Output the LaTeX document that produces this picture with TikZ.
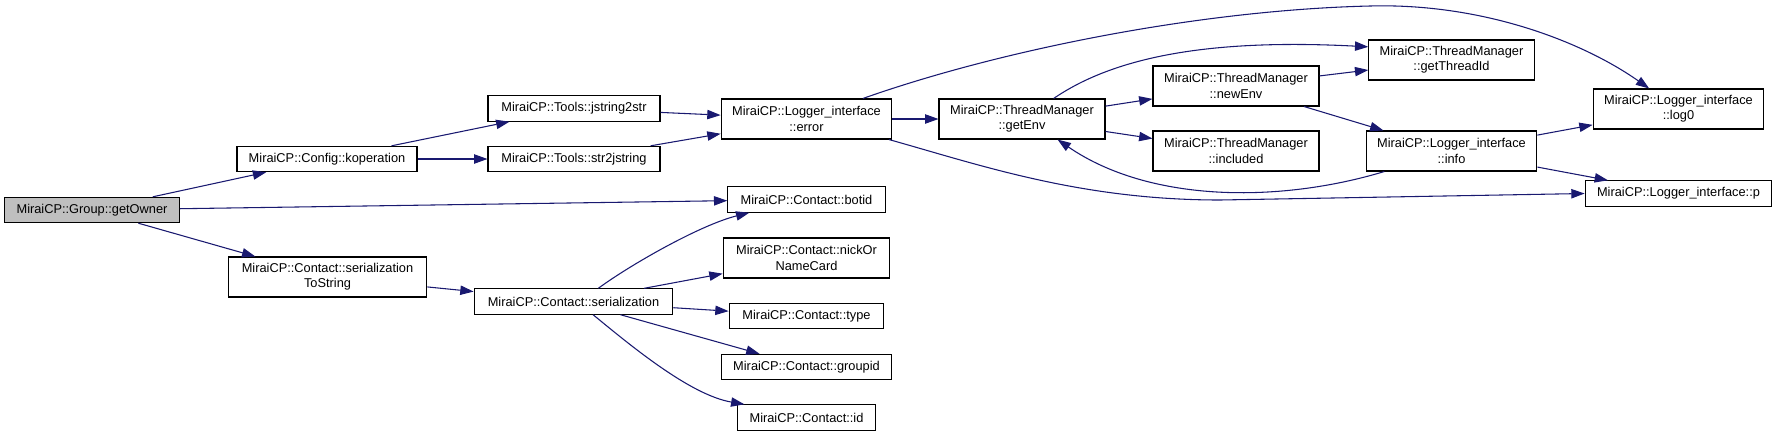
\documentclass[tikz,border=0pt]{standalone}
\usepackage{fontspec}
\setmainfont{Liberation Sans}
\usetikzlibrary{arrows.meta}
\definecolor{edg}{HTML}{191970}
\definecolor{cur}{HTML}{BFBFBF}
\tikzset{
  fn/.style={draw=black, line width=0.8pt, fill=white, inner sep=0pt, align=center, minimum height=19pt, font=\fontsize{9.6}{11.5}\selectfont},
  fnn/.style={fn, minimum height=30pt},
  call/.style={edg, line width=0.8pt, -{Triangle[length=10pt,width=7pt]}},
}
\begin{document}
\begin{tikzpicture}[x=0.75pt,y=-0.75pt]
 \useasboundingbox (0,0) rectangle (1777,437);
 \node[fn, fill=cur, minimum width=131pt] (owner) at (92,210) {MiraiCP::Group::getOwner};
 \node[fn, minimum width=135pt] (kop) at (327,159) {MiraiCP::Config::koperation};
 \node[fn, minimum width=129pt] (j2s) at (574,108.5) {MiraiCP::Tools::jstring2str};
 \node[fn, minimum width=129pt] (s2j) at (574,159) {MiraiCP::Tools::str2jstring};
 \node[fnn, minimum width=128pt] (err) at (806.5,119) {MiraiCP::Logger\_interface\\::error};
 \node[fnn, minimum width=124.5pt] (genv) at (1022,119) {MiraiCP::ThreadManager\\::getEnv};
 \node[fnn, minimum width=124.5pt] (nenv) at (1236,86) {MiraiCP::ThreadManager\\::newEnv};
 \node[fnn, minimum width=124.5pt] (incl) at (1236,151) {MiraiCP::ThreadManager\\::included};
 \node[fnn, minimum width=124pt] (tid) at (1451.5,60) {MiraiCP::ThreadManager\\::getThreadId};
 \node[fnn, minimum width=128pt] (info) at (1451.5,151) {MiraiCP::Logger\_interface\\::info};
 \node[fnn, minimum width=128pt] (logz) at (1678.5,109) {MiraiCP::Logger\_interface\\::log0};
 \node[fn, minimum width=140pt] (logp) at (1678.5,193.5) {MiraiCP::Logger\_interface::p};
 \node[fn, minimum width=118pt] (botid) at (806.5,199.5) {MiraiCP::Contact::botid};
 \node[fnn, minimum width=125pt] (nick) at (806.5,258) {MiraiCP::Contact::nickOr\\NameCard};
 \node[fn, minimum width=116pt] (ctype) at (806.5,316) {MiraiCP::Contact::type};
 \node[fn, minimum width=128pt] (grp) at (806.5,367) {MiraiCP::Contact::groupid};
 \node[fn, minimum width=104pt] (cid) at (806.5,417.5) {MiraiCP::Contact::id};
 \node[fnn, minimum width=149pt] (sts) at (327.5,277) {MiraiCP::Contact::serialization\\ToString};
 \node[fn, minimum width=149pt] (ser) at (573.5,301.5) {MiraiCP::Contact::serialization};
 \draw[call] (owner) -- (kop);
 \draw[call] (owner) -- (botid);
 \draw[call] (owner) -- (sts);
 \draw[call] (kop) -- (j2s);
 \draw[call] (kop) -- (s2j);
 \draw[call] (j2s) -- (err);
 \draw[call] (s2j) -- (err);
 \draw[call] (err) -- (genv);
 \draw[call] (err.20) .. controls (1000,50) and (1200,10) .. (1370,6) .. controls (1480,3) and (1580,40) .. (logz.145);
 \draw[call] (err.-14) .. controls (980,165) and (1080,200) .. (1220,200) -- (logp.west);
 \draw[call] (genv) -- (nenv);
 \draw[call] (genv) -- (incl);
 \draw[call] (genv.33) .. controls (1110,60) and (1200,38) .. (tid.171);
 \draw[call] (nenv) -- (tid);
 \draw[call] (nenv) -- (info);
 \draw[call] (info.197) .. controls (1280,203) and (1150,203) .. (genv.-30);
 \draw[call] (info) -- (logz);
 \draw[call] (info) -- (logp);
 \draw[call] (sts) -- (ser);
 \draw[call] (ser.28) .. controls (630,265) and (700,225) .. (botid.193);
 \draw[call] (ser) -- (nick);
 \draw[call] (ser) -- (ctype);
 \draw[call] (ser) -- (grp);
 \draw[call] (ser.-34) .. controls (630,345) and (690,395) .. (cid.168);
\end{tikzpicture}
\end{document}
